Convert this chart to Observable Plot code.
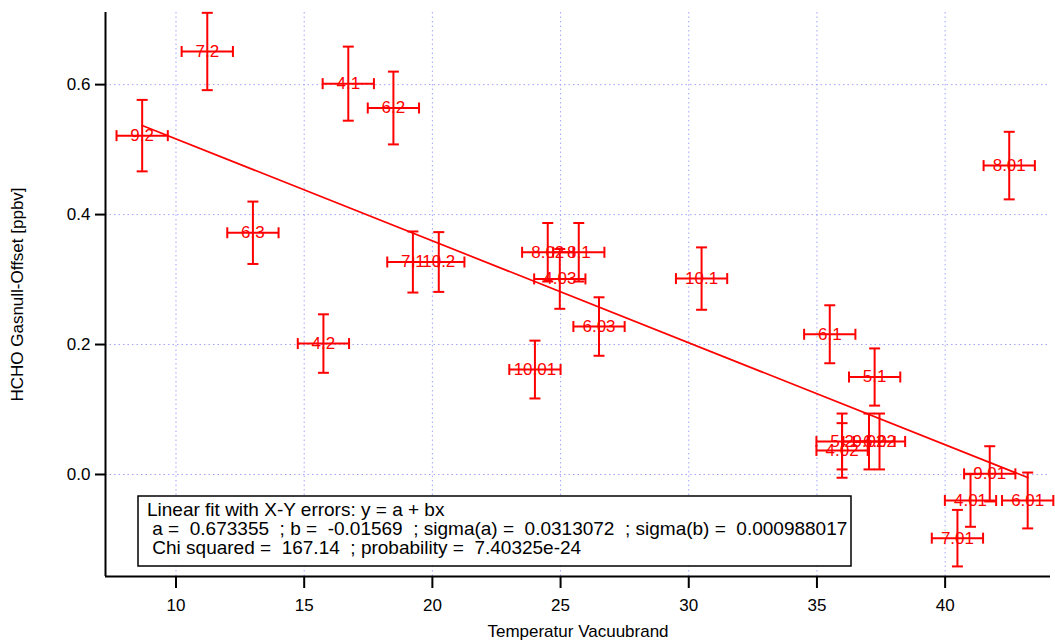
<!DOCTYPE html>
<html>
<head>
<meta charset="utf-8">
<script src="https://cdn.jsdelivr.net/npm/d3@7"></script>
<script src="https://cdn.jsdelivr.net/npm/@observablehq/plot@0.6"></script>
<style>
  html, body { margin: 0; padding: 0; background: white; }
  #chart svg { display: block; }
</style>
</head>
<body>
<div id="chart"></div>
<script>
// ---- data ----
const labels   = ["9.2","7.2","4.1","6.2","6.3","4.2","7.1","10.2","8.02","8.1","4.03","10.1","6.03","10.01","6.1","5.1","8.01","5.2","9.02","6.02","4.02","9.01","4.01","6.01","7.01"];
const temps    = [8.68, 11.22, 16.72, 18.48, 13.0, 15.75, 19.24, 20.25, 24.50, 25.71, 24.97, 30.50, 26.50, 24.0, 35.50, 37.25, 42.50, 35.98, 37.03, 37.44, 35.98, 41.74, 40.99, 43.22, 40.48];
const offsets  = [0.5215, 0.651, 0.6015, 0.564, 0.372, 0.2015, 0.327, 0.327, 0.342, 0.342, 0.301, 0.3015, 0.2277, 0.1615, 0.2158, 0.150, 0.4754, 0.0508, 0.0508, 0.0508, 0.037, 0.001, -0.040, -0.040, -0.098];
const tempErr  = [1.0, 1.0, 1.0, 1.0, 1.0, 1.0, 1.0, 1.0, 1.0, 1.0, 1.0, 1.0, 1.0, 1.0, 1.0, 1.0, 1.0, 1.0, 1.0, 1.0, 1.0, 1.0, 1.0, 1.0, 1.0];
const offsetErr= [0.055, 0.0595, 0.057, 0.056, 0.048, 0.045, 0.047, 0.046, 0.045, 0.045, 0.046, 0.048, 0.045, 0.0445, 0.0446, 0.044, 0.052, 0.043, 0.043, 0.043, 0.042, 0.0425, 0.0405, 0.043, 0.0435];
const fitA = 0.673355;
const fitB = -0.01569;
const xTicks = [10, 15, 20, 25, 30, 35, 40];
const yTicks = [0, 0.2, 0.4, 0.6];
const xDomain = [7.25, 44.11];
const yDomain = [-0.157, 0.711];
const legendLines = [
  "Linear fit with X-Y errors: y = a + bx",
  " a =  0.673355  ; b =  -0.01569  ; sigma(a) =  0.0313072  ; sigma(b) =  0.000988017",
  " Chi squared =  167.14  ; probability =  7.40325e-24"
];

// ---- build table ----
const data = labels.map((l, i) => ({label: l, x: temps[i], y: offsets[i], ex: tempErr[i], ey: offsetErr[i]}));
const [fx0, fx1] = d3.extent(temps);
const fitPts = [fx0, fx1].map(x => ({x, y: fitA + fitB * x}));

const RED = "#ff0000";
const hCap = {draw(ctx) { const r = 5.5; ctx.moveTo(-r, 0); ctx.lineTo(r, 0); }};
const vCap = {draw(ctx) { const r = 5.5; ctx.moveTo(0, -r); ctx.lineTo(0, r); }};
const FONT = "'Liberation Sans', Arial, Helvetica, sans-serif";

const plot = Plot.plot({
  width: 1055,
  height: 642,
  marginLeft: 105,
  marginRight: 5,
  marginTop: 12,
  marginBottom: 66,
  style: {fontFamily: FONT, fontSize: "16px", background: "white", color: "black"},
  x: {domain: xDomain},
  y: {domain: yDomain},
  marks: [
    Plot.gridX(xTicks, {stroke: "#9a9aff", strokeOpacity: 0.9, strokeDasharray: "1.5,3", strokeWidth: 1}),
    Plot.gridY(yTicks, {stroke: "#9a9aff", strokeOpacity: 0.9, strokeDasharray: "1.5,3", strokeWidth: 1}),
    Plot.axisX(xTicks, {tickSize: 12, tickPadding: 10, fontSize: 17, strokeWidth: 2,
      label: "Temperatur Vacuubrand", labelAnchor: "center", labelOffset: 60, labelArrow: "none"}),
    Plot.axisY(yTicks, {tickSize: 10, tickPadding: 5, fontSize: 17, strokeWidth: 2, tickFormat: d3.format(".1f"),
      label: "HCHO Gasnull-Offset [ppbv]", labelAnchor: "center", labelOffset: 95, labelArrow: "none"}),
    Plot.ruleX([xDomain[0]], {strokeWidth: 2}),
    Plot.ruleY([yDomain[0]], {strokeWidth: 2}),
    Plot.line(fitPts, {x: "x", y: "y", stroke: RED, strokeWidth: 1.7}),
    Plot.ruleY(data, {y: "y", x1: d => d.x - d.ex, x2: d => d.x + d.ex, stroke: RED, strokeWidth: 2}),
    Plot.ruleX(data, {x: "x", y1: d => d.y - d.ey, y2: d => d.y + d.ey, stroke: RED, strokeWidth: 2}),
    Plot.dot(data, {x: d => d.x - d.ex, y: "y", symbol: vCap, fill: "none", stroke: RED, strokeWidth: 2}),
    Plot.dot(data, {x: d => d.x + d.ex, y: "y", symbol: vCap, fill: "none", stroke: RED, strokeWidth: 2}),
    Plot.dot(data, {x: "x", y: d => d.y - d.ey, symbol: hCap, fill: "none", stroke: RED, strokeWidth: 2}),
    Plot.dot(data, {x: "x", y: d => d.y + d.ey, symbol: hCap, fill: "none", stroke: RED, strokeWidth: 2}),
    Plot.text(data, {x: "x", y: "y", text: "label", fill: RED, fontSize: 17})
  ]
});

document.getElementById("chart").appendChild(plot);

// ---- legend (annotation box) ----
const svg = d3.select(plot);
const g = svg.append("g").attr("class", "fit-legend").attr("text-anchor", "start");
g.append("rect")
  .attr("x", 138).attr("y", 496).attr("width", 713).attr("height", 70)
  .attr("fill", "white").attr("stroke", "black").attr("stroke-width", 1.5);
legendLines.forEach((t, i) => {
  g.append("text")
    .attr("x", 147).attr("y", 516 + i * 19)
    .attr("text-anchor", "start")
    .style("white-space", "pre")
    .attr("font-family", FONT)
    .attr("font-size", 19)
    .attr("fill", "black")
    .text(t);
});
</script>
</body>
</html>
